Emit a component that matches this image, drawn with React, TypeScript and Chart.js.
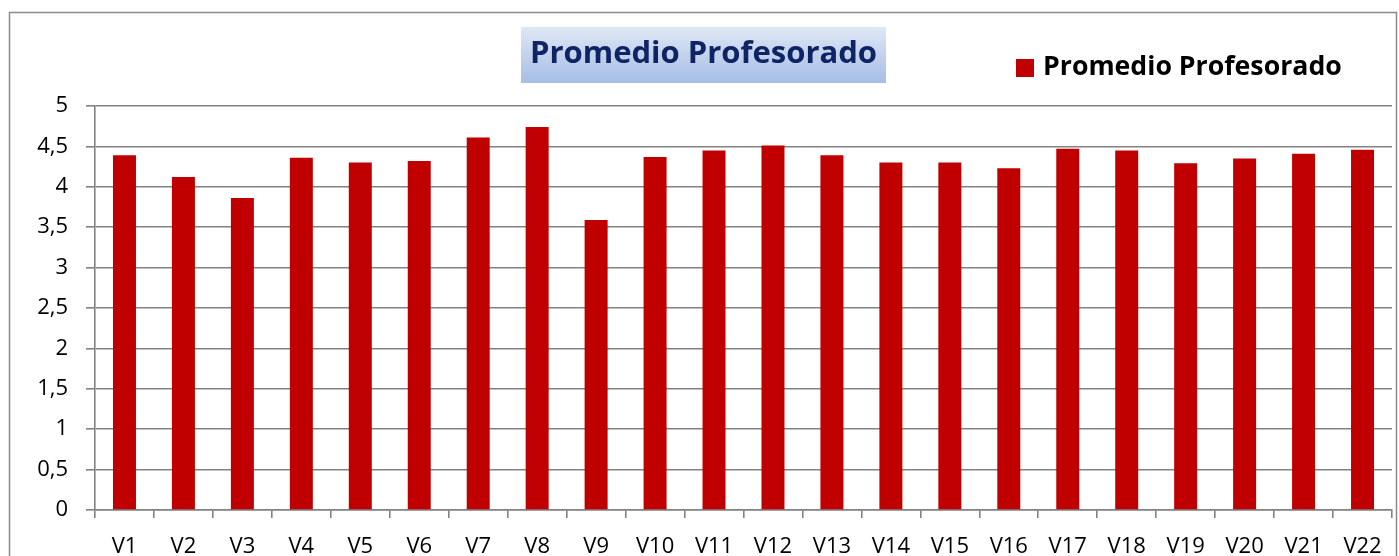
import React, { useEffect, useRef } from "react";
import { Chart, registerables } from "chart.js";

Chart.register(...registerables);

const categories = ["V1","V2","V3","V4","V5","V6","V7","V8","V9","V10","V11","V12","V13","V14","V15","V16","V17","V18","V19","V20","V21","V22"];
const promedioProfesorado = [4.39,4.12,3.86,4.36,4.30,4.32,4.61,4.74,3.59,4.37,4.45,4.51,4.39,4.30,4.30,4.23,4.47,4.45,4.29,4.35,4.41,4.46];
const seriesLabel = "Promedio Profesorado";
const chartTitle = "Promedio Profesorado";
const yTicks = [0, 0.5, 1, 1.5, 2, 2.5, 3, 3.5, 4, 4.5, 5];

const BAR_COLOR = "#C00000";
const GRID = "#828282";
const FONT = "'Open Sans', 'Noto Sans', sans-serif";

const decor = {
  id: "decor",
  beforeDraw(chart: any) {
    const ctx = chart.ctx;
    ctx.save();
    ctx.strokeStyle = "#8a8a8a";
    ctx.lineWidth = 1.5;
    ctx.beginPath();
    ctx.moveTo(9.5, chart.height + 5);
    ctx.lineTo(9.5, 12.5);
    ctx.lineTo(chart.width - 2.5, 12.5);
    ctx.lineTo(chart.width - 2.5, chart.height + 5);
    ctx.stroke();
    ctx.restore();
  },
  afterDraw(chart: any) {
    const ctx = chart.ctx;
    ctx.save();
    const bx = 521, by = 27, bw = 365, bh = 56;
    const g = ctx.createLinearGradient(0, by, 0, by + bh);
    g.addColorStop(0, "#dfe7f4");
    g.addColorStop(1, "#a6bde6");
    ctx.fillStyle = g;
    ctx.fillRect(bx, by, bw, bh);
    ctx.fillStyle = "#0f2465";
    ctx.font = `bold 31px ${FONT}`;
    ctx.textAlign = "center";
    ctx.textBaseline = "middle";
    ctx.fillText(chartTitle, bx + bw / 2, by + bh / 2 - 1);
    const ds = chart.data.datasets[0];
    ctx.fillStyle = ds.backgroundColor;
    ctx.fillRect(1016, 59, 18, 18);
    ctx.fillStyle = "#000";
    ctx.font = `bold 26.7px ${FONT}`;
    ctx.textAlign = "left";
    ctx.fillText(ds.label, 1043, 67);
    ctx.restore();
  },
};

export default function App() {
  const ref = useRef<HTMLCanvasElement>(null);
  useEffect(() => {
    if (!ref.current) return;
    const chart = new Chart(ref.current, {
      type: "bar",
      data: {
        labels: categories,
        datasets: [
          {
            label: seriesLabel,
            data: promedioProfesorado,
            backgroundColor: BAR_COLOR,
            borderWidth: 0,
            categoryPercentage: 1,
            barPercentage: 0.39,
          },
        ],
      },
      options: {
        animation: false,
        responsive: false,
        layout: { padding: { top: 106, left: 10, right: 7, bottom: 0 } },
        plugins: {
          legend: { display: false },
          title: { display: false },
          tooltip: { enabled: false },
        },
        scales: {
          x: {
            afterFit: (scale: any) => {
              scale.height = 46;
            },
            grid: {
              display: true,
              drawOnChartArea: false,
              drawTicks: true,
              tickLength: 8,
              color: GRID,
              lineWidth: 1.6,
              offset: true,
            },
            border: { display: true, color: GRID, width: 1.6 },
            ticks: {
              color: "#000",
              font: { family: FONT, size: 22, lineHeight: 1.2 },
              padding: 16,
              maxRotation: 0,
              autoSkip: false,
            },
          },
          y: {
            min: 0,
            max: 5,
            afterFit: (scale: any) => {
              scale.width = 85;
            },
            afterBuildTicks: (scale: any) => {
              scale.ticks = yTicks.map((v) => ({ value: v }));
            },
            grid: {
              color: GRID,
              lineWidth: 1.6,
              tickLength: 9,
            },
            border: { display: true, color: GRID, width: 1.6 },
            ticks: {
              color: "#000",
              font: { family: FONT, size: 22 },
              padding: 18,
              callback: (v: any) => String(v).replace(".", ","),
            },
          },
        },
      },
      plugins: [decor],
    });
    return () => chart.destroy();
  }, []);
  return (
    <div style={{ position: "absolute", left: 0, top: 0, width: 1399, height: 556, background: "#fff" }}>
      <canvas ref={ref} width={1399} height={556} style={{ display: "block", width: 1399, height: 556 }} />
    </div>
  );
}
